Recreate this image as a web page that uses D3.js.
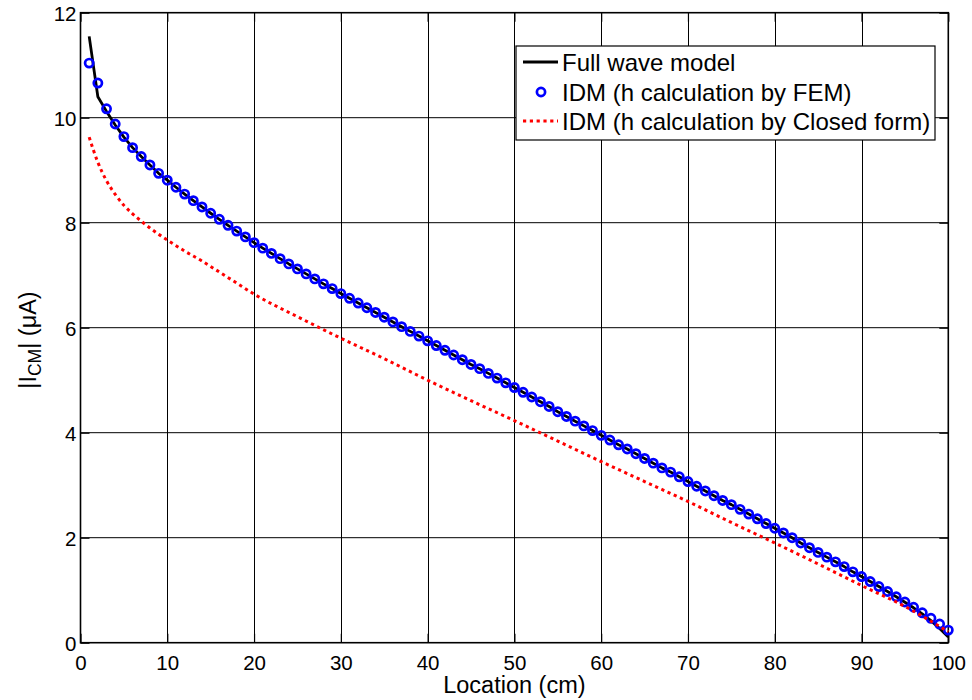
<!DOCTYPE html>
<html>
<head>
<meta charset="utf-8">
<script src="https://cdn.jsdelivr.net/npm/d3@7"></script>
<style>
  html, body { margin: 0; padding: 0; background: #fff; }
  svg { display: block; }
  text { font-family: "Liberation Sans", Arial, Helvetica, sans-serif; fill: #000; }
</style>
</head>
<body>
<svg id="chart" width="972" height="700"></svg>
<script>
// Location along the cable (cm)
const locations = d3.range(1, 101);

// Full wave model, |I_CM| in µA at each location
const fullWave = [
  11.55, 10.40, 10.12, 9.86, 9.63, 9.43, 9.26, 9.10, 8.94, 8.81,
  8.675, 8.545, 8.42, 8.30, 8.18, 8.065, 7.95, 7.84, 7.73, 7.62,
  7.515, 7.415, 7.315, 7.215, 7.12, 7.025, 6.93, 6.835, 6.745, 6.65,
  6.56, 6.47, 6.38, 6.29, 6.20, 6.11, 6.02, 5.93, 5.84, 5.75,
  5.66, 5.57, 5.48, 5.39, 5.30, 5.22, 5.13, 5.04, 4.95, 4.86,
  4.77, 4.68, 4.59, 4.50, 4.40, 4.31, 4.22, 4.13, 4.04, 3.95,
  3.86, 3.77, 3.69, 3.60, 3.51, 3.42, 3.33, 3.25, 3.16, 3.07,
  2.98, 2.89, 2.80, 2.71, 2.63, 2.54, 2.45, 2.36, 2.27, 2.18,
  2.09, 2.00, 1.90, 1.81, 1.72, 1.63, 1.54, 1.45, 1.35, 1.26,
  1.165, 1.07, 0.975, 0.875, 0.77, 0.665, 0.55, 0.42, 0.27, 0.11
];

// IDM with h from FEM, one marker per centimetre
const idmFem = [
  11.04, 10.66, 10.17, 9.88, 9.64, 9.43, 9.26, 9.10, 8.94, 8.81,
  8.675, 8.545, 8.42, 8.30, 8.18, 8.065, 7.95, 7.84, 7.73, 7.62,
  7.515, 7.415, 7.315, 7.215, 7.12, 7.025, 6.93, 6.835, 6.745, 6.65,
  6.56, 6.47, 6.38, 6.29, 6.20, 6.11, 6.02, 5.93, 5.84, 5.75,
  5.66, 5.57, 5.48, 5.39, 5.30, 5.22, 5.13, 5.04, 4.95, 4.86,
  4.77, 4.68, 4.59, 4.50, 4.40, 4.31, 4.22, 4.13, 4.04, 3.95,
  3.86, 3.77, 3.69, 3.60, 3.51, 3.42, 3.33, 3.25, 3.16, 3.07,
  2.98, 2.89, 2.80, 2.71, 2.63, 2.54, 2.45, 2.36, 2.27, 2.18,
  2.09, 2.00, 1.90, 1.81, 1.72, 1.63, 1.54, 1.45, 1.35, 1.26,
  1.165, 1.07, 0.975, 0.875, 0.775, 0.675, 0.57, 0.465, 0.355, 0.24
];

// IDM with h from the closed-form expression
const closedFormX = [1, 2, 3, 4, 5, 6, 7, 8, 9, 10, 12, 14, 16, 18, 20, 25, 30, 35, 40, 45,
                     50, 55, 60, 65, 70, 75, 80, 85, 90, 95, 100];
const closedFormY = [9.63, 9.15, 8.80, 8.54, 8.33, 8.17, 8.03, 7.90, 7.78, 7.67, 7.46, 7.27,
                     7.06, 6.85, 6.64, 6.21, 5.80, 5.41, 5.00, 4.61, 4.23, 3.84, 3.45, 3.07,
                     2.69, 2.29, 1.90, 1.50, 1.09, 0.69, 0.21];

const xTicks = [0, 10, 20, 30, 40, 50, 60, 70, 80, 90, 100];
const yTicks = [0, 2, 4, 6, 8, 10, 12];

const legendLabels = [
  "Full wave model",
  "IDM (h calculation by FEM)",
  "IDM (h calculation by Closed form)"
];

// ---- layout ----
const svg = d3.select("#chart");
const plotL = 80.5, plotR = 948.3, plotT = 12.7, plotB = 642.7;

const x = d3.scaleLinear().domain([0, 100]).range([plotL, plotR]);
const y = d3.scaleLinear().domain([0, 12]).range([plotB, plotT]);

const tickFont = "20.5px";
const labelFont = "23.5px";

// grid
const grid = svg.append("g");
grid.selectAll("line.gx").data(xTicks.slice(1, -1)).enter().append("line")
  .attr("x1", d => Math.round(x(d)) + 0.5).attr("x2", d => Math.round(x(d)) + 0.5)
  .attr("y1", plotT).attr("y2", plotB)
  .attr("stroke", "#000").attr("stroke-width", 1);
grid.selectAll("line.gy").data(yTicks.slice(1, -1)).enter().append("line")
  .attr("x1", plotL).attr("x2", plotR)
  .attr("y1", d => y(d)).attr("y2", d => y(d))
  .attr("stroke", "#000").attr("stroke-width", 1);

// axes with inward ticks on all four sides
const tl = 9;
const axB = svg.append("g").attr("transform", `translate(0,${plotB})`)
  .call(d3.axisBottom(x).tickValues(xTicks).tickSizeInner(-tl).tickSizeOuter(0).tickPadding(13));
const axT = svg.append("g").attr("transform", `translate(0,${plotT})`)
  .call(d3.axisTop(x).tickValues(xTicks).tickSizeInner(-tl).tickSizeOuter(0).tickFormat(""));
const axL = svg.append("g").attr("transform", `translate(${plotL},0)`)
  .call(d3.axisLeft(y).tickValues(yTicks).tickSizeInner(-tl).tickSizeOuter(0).tickPadding(4));
const axR = svg.append("g").attr("transform", `translate(${plotR},0)`)
  .call(d3.axisRight(y).tickValues(yTicks).tickSizeInner(-tl).tickSizeOuter(0).tickFormat(""));

[axB, axT, axL, axR].forEach(a => {
  a.select(".domain").remove();
  a.selectAll(".tick line").attr("stroke", "#000").attr("stroke-width", 1.2);
  a.selectAll(".tick text").style("font-size", tickFont).attr("fill", "#000")
    .style("font-family", '"Liberation Sans", Arial, sans-serif');
});
axB.selectAll(".tick text").attr("dy", "0.71em");
axL.selectAll(".tick text").attr("dy", "0.36em");

// frame
svg.append("rect")
  .attr("x", plotL).attr("y", plotT)
  .attr("width", plotR - plotL).attr("height", plotB - plotT)
  .attr("fill", "none").attr("stroke", "#000").attr("stroke-width", 1.6);

// ---- series ----
const plot = svg.append("g");

const lineFW = d3.line().x((d, i) => x(locations[i])).y(d => y(d));
plot.append("path").datum(fullWave)
  .attr("d", lineFW)
  .attr("fill", "none").attr("stroke", "#000").attr("stroke-width", 2.8)
  .attr("stroke-linejoin", "round");

plot.selectAll("circle.fem").data(idmFem).enter().append("circle")
  .attr("class", "fem")
  .attr("cx", (d, i) => x(locations[i])).attr("cy", d => y(d))
  .attr("r", 4.1)
  .attr("fill", "none").attr("stroke", "#0000ff").attr("stroke-width", 2.7);

const lineCF = d3.line().x((d, i) => x(closedFormX[i])).y(d => y(d)).curve(d3.curveMonotoneX);
plot.append("path").datum(closedFormY)
  .attr("d", lineCF)
  .attr("fill", "none").attr("stroke", "#ff0000").attr("stroke-width", 3)
  .attr("stroke-dasharray", "3.2,3.6");

// ---- axis labels ----
svg.append("text")
  .attr("x", (plotL + plotR) / 2).attr("y", 693)
  .attr("text-anchor", "middle").style("font-size", labelFont)
  .text("Location (cm)");

const yl = svg.append("text")
  .attr("transform", `translate(36,340) rotate(-90)`)
  .attr("text-anchor", "middle").style("font-size", labelFont);
yl.append("tspan").text("|I");
yl.append("tspan").attr("dy", 5).style("font-size", "17.5px").text("CM");
yl.append("tspan").attr("dy", -5).text("| (\u03BCA)");

// ---- legend ----
const lg = svg.append("g");
lg.append("rect")
  .attr("x", 516).attr("y", 46).attr("width", 419).attr("height", 94)
  .attr("fill", "#fff").attr("stroke", "#000").attr("stroke-width", 1.2);

const rowY = [62, 92, 121];
const lgFont = "24px";

lg.append("line").attr("x1", 523).attr("x2", 558).attr("y1", rowY[0]).attr("y2", rowY[0])
  .attr("stroke", "#000").attr("stroke-width", 2.8);
lg.append("circle").attr("cx", 541).attr("cy", rowY[1]).attr("r", 4.1)
  .attr("fill", "none").attr("stroke", "#0000ff").attr("stroke-width", 2.7);
lg.append("line").attr("x1", 523).attr("x2", 558).attr("y1", rowY[2]).attr("y2", rowY[2])
  .attr("stroke", "#ff0000").attr("stroke-width", 3).attr("stroke-dasharray", "3.2,3.6");

lg.selectAll("text.lg").data(legendLabels).enter().append("text")
  .attr("class", "lg")
  .attr("x", 562).attr("y", (d, i) => rowY[i] + 8.5)
  .style("font-size", lgFont)
  .text(d => d);
</script>
</body>
</html>
